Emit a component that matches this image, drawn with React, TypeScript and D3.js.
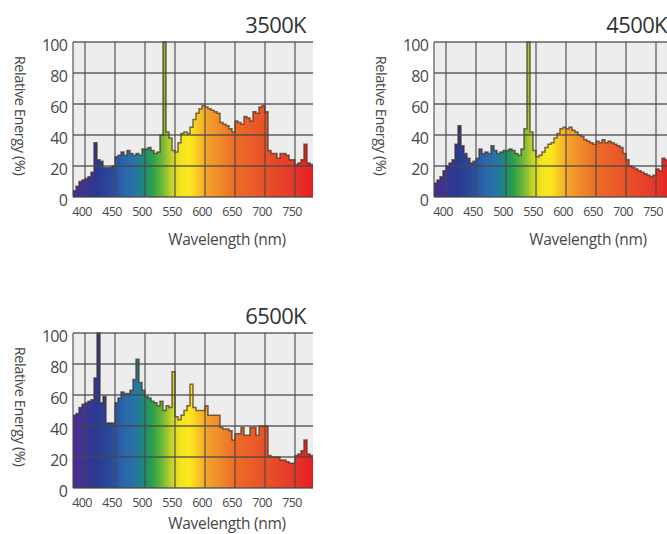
import React from "react";
import * as d3 from "d3";

// ---- data ----
const WAVELENGTHS = [
  380, 385, 390, 395, 400, 405, 410, 415, 420, 425,
  430, 435, 440, 445, 450, 455, 460, 465, 470, 475,
  480, 485, 490, 495, 500, 505, 510, 515, 520, 525,
  530, 535, 540, 545, 550, 555, 560, 565, 570, 575,
  580, 585, 590, 595, 600, 605, 610, 615, 620, 625,
  630, 635, 640, 645, 650, 655, 660, 665, 670, 675,
  680, 685, 690, 695, 700, 705, 710, 715, 720, 725,
  730, 735, 740, 745, 750, 755, 760, 765, 770, 775,
];
const WAVELENGTH_END = 780;

const SPD_3500K = [
  4, 7, 10, 11, 12, 13, 16, 35, 24, 23,
  19, 19, 19, 20, 26, 27, 29, 27, 30, 28,
  27, 28, 27, 31, 31, 32, 30, 28, 29, 40,
  100, 42, 38, 30, 29, 35, 41, 42, 41, 45,
  50, 54, 57, 59, 58, 57, 56, 55, 54, 48,
  47, 46, 44, 42, 49, 48, 47, 52, 51, 49,
  55, 54, 58, 59, 55, 30, 28, 28, 25, 28,
  28, 27, 24, 24, 21, 22, 24, 34, 22, 21,
];
const SPD_4500K = [
  9, 11, 13, 17, 20, 22, 24, 34, 46, 33,
  28, 25, 22, 23, 25, 31, 28, 29, 28, 33,
  30, 28, 29, 30, 30, 31, 30, 28, 27, 31,
  44, 100, 42, 30, 26, 27, 29, 32, 34, 35,
  38, 41, 44, 45, 44, 45, 43, 42, 40, 39,
  37, 36, 35, 34, 36, 35, 37, 35, 36, 35,
  34, 33, 32, 28, 24, 20, 19, 18, 17, 16,
  15, 14, 13, 14, 18, 17, 25, 24, 24, 24,
];
const SPD_6500K = [
  47, 48, 52, 54, 55, 56, 57, 71, 100, 55,
  59, 42, 42, 42, 55, 58, 62, 61, 61, 63,
  70, 83, 68, 63, 59, 58, 56, 55, 53, 56,
  50, 53, 52, 75, 46, 44, 47, 50, 53, 67,
  52, 50, 50, 50, 53, 47, 47, 47, 47, 39,
  38, 38, 37, 31, 35, 35, 39, 34, 34, 39,
  39, 34, 40, 40, 40, 21, 20, 20, 20, 18,
  18, 17, 16, 16, 21, 22, 24, 31, 22, 21,
];

const TITLES = ["3500K", "4500K", "6500K"];
const X_TICKS = [400, 450, 500, 550, 600, 650, 700, 750];
const Y_TICKS = [0, 20, 40, 60, 80, 100];
const X_LABEL = "Wavelength (nm)";
const Y_LABEL = "Relative Energy (%)";

// spectrum colour stops [wavelength, colour]
const SPECTRUM_STOPS: [number, string][] = [
  [380, "#4b2c8f"],
  [400, "#3a3496"],
  [420, "#2a3a90"],
  [445, "#2a4c9e"],
  [465, "#2a66aa"],
  [485, "#2676a6"],
  [500, "#1c8c72"],
  [512, "#2aa048"],
  [528, "#6ab63a"],
  [545, "#c8d428"],
  [560, "#f4e420"],
  [575, "#fbe81c"],
  [590, "#f8c224"],
  [605, "#f2a02c"],
  [625, "#f08a2a"],
  [650, "#ec6c28"],
  [700, "#e85228"],
  [745, "#e63a2a"],
  [780, "#e41e22"],
];

// ---- layout ----
const W = 667;
const H = 534;
const PLOT = { left: 73, right: 313, top: 42, bottom: 197 };
const PANEL_OFFSETS = [
  [0, 0],
  [361, 0],
  [0, 291],
];
const XLABEL_Y = [245, 245, 238];
const SERIES = [SPD_3500K, SPD_4500K, SPD_6500K];

const FONT = "'Open Sans', 'Noto Sans', sans-serif";

const x = d3
  .scaleLinear()
  .domain([WAVELENGTHS[0], WAVELENGTH_END])
  .range([PLOT.left, PLOT.right]);
const y = d3.scaleLinear().domain([0, 100]).range([PLOT.bottom, PLOT.top]);

type Pt = [number, number];

const area = d3
  .area<Pt>()
  .x((d) => x(d[0]))
  .y0(y(0))
  .y1((d) => y(d[1]))
  .curve(d3.curveStepAfter);

const line = d3
  .line<Pt>()
  .x((d) => x(d[0]))
  .y((d) => y(d[1]))
  .curve(d3.curveStepAfter);

function Panel({ values, title, labelY }: { values: number[]; title: string; labelY: number }) {
  const pts: Pt[] = WAVELENGTHS.map((w, i) => [w, values[i]] as Pt);
  pts.push([WAVELENGTH_END, values[values.length - 1]]);
  const gridX = [WAVELENGTHS[0], ...X_TICKS];
  return (
    <g>
      <rect
        x={PLOT.left}
        y={PLOT.top}
        width={PLOT.right - PLOT.left}
        height={PLOT.bottom - PLOT.top}
        fill="#ededed"
      />
      <path d={area(pts) || ""} fill="url(#spectrum)" />
      <path
        d={line(pts) || ""}
        fill="none"
        stroke="rgba(70,45,30,0.7)"
        strokeWidth={1.5}
      />
      {Y_TICKS.map((t) => (
        <line
          key={"h" + t}
          x1={PLOT.left}
          x2={PLOT.right}
          y1={y(t)}
          y2={y(t)}
          stroke="#484848"
          strokeOpacity={0.85}
          strokeWidth={1.3}
        />
      ))}
      {gridX.map((t) => (
        <line
          key={"v" + t}
          x1={x(t)}
          x2={x(t)}
          y1={PLOT.top}
          y2={PLOT.bottom}
          stroke="#484848"
          strokeOpacity={0.85}
          strokeWidth={1.3}
        />
      ))}
      {Y_TICKS.map((t) => (
        <text
          key={"yl" + t}
          x={PLOT.left - 6}
          y={y(t) + 3}
          dy="0.35em"
          textAnchor="end"
          fontSize={16}
          fill="#474747"
          style={{ letterSpacing: "-0.8px" }}
        >
          {t}
        </text>
      ))}
      {X_TICKS.map((t) => (
        <text
          key={"xl" + t}
          x={x(t) - 3}
          y={PLOT.bottom + 15}
          dy="0.35em"
          textAnchor="middle"
          fontSize={12.5}
          fill="#474747"
          style={{ letterSpacing: "-0.7px" }}
        >
          {t}
        </text>
      ))}
      <text
        x={227}
        y={labelY}
        textAnchor="middle"
        fontSize={15.5}
        fill="#474747"
        style={{ letterSpacing: "-0.3px" }}
      >
        {X_LABEL}
      </text>
      <text
        transform={`translate(20,${(PLOT.top + PLOT.bottom) / 2 - 4}) rotate(90)`}
        textAnchor="middle"
        dy="0.35em"
        fontSize={14.5}
        fill="#474747"
        style={{ letterSpacing: "-0.4px" }}
      >
        {Y_LABEL}
      </text>
      <text
        x={306}
        y={33}
        textAnchor="end"
        fontSize={22}
        fill="#333"
        style={{ letterSpacing: "-0.6px" }}
      >
        {title}
      </text>
    </g>
  );
}

export default function App() {
  const span = WAVELENGTH_END - WAVELENGTHS[0];
  return (
    <svg
      width={W}
      height={H}
      viewBox={`0 0 ${W} ${H}`}
      style={{ position: "absolute", left: 0, top: 0, background: "#fff", fontFamily: FONT }}
    >
      <defs>
        <linearGradient
          id="spectrum"
          gradientUnits="userSpaceOnUse"
          x1={PLOT.left}
          x2={PLOT.right}
          y1={0}
          y2={0}
        >
          {SPECTRUM_STOPS.map(([w, c]) => (
            <stop key={w} offset={(w - WAVELENGTHS[0]) / span} stopColor={c} />
          ))}
        </linearGradient>
      </defs>
      {SERIES.map((vals, i) => (
        <g key={i} transform={`translate(${PANEL_OFFSETS[i][0]},${PANEL_OFFSETS[i][1]})`}>
          <Panel values={vals} title={TITLES[i]} labelY={XLABEL_Y[i]} />
        </g>
      ))}
    </svg>
  );
}
